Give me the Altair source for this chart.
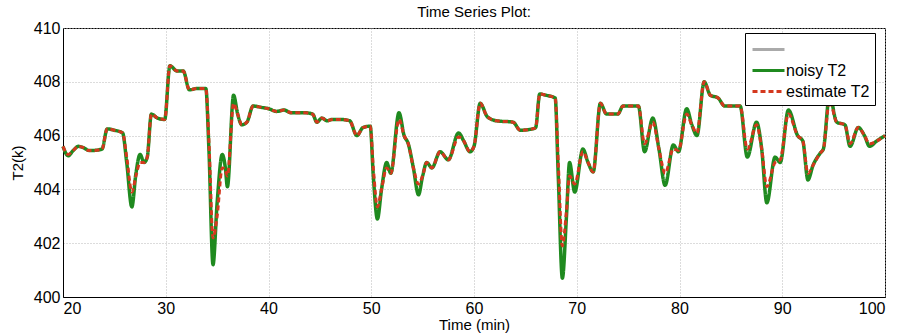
import altair as alt
import pandas as pd

# time (min)
t = [20.0, 20.5, 21.0, 21.5, 22.0, 22.5, 23.0, 23.8, 24.3, 25.0, 25.8, 26.2, 26.7, 27.1, 27.5, 27.9,
     28.2, 28.6, 29.2, 29.9, 30.4, 31.1, 31.7, 32.3, 33.0, 33.9, 34.2, 34.6, 35.0, 35.5, 35.8, 36.0,
     36.6, 37.0, 37.4, 37.9, 38.5, 39.3, 40.0, 40.8, 41.5, 42.2, 43.5, 44.3, 44.7, 45.2, 45.7, 46.2,
     47.0, 47.9, 48.6, 49.2, 49.9, 50.2, 50.6, 51.0, 51.5, 51.9, 52.7, 53.2, 53.6, 54.1, 54.6, 55.0,
     55.4, 55.9, 56.7, 57.5, 58.5, 59.0, 59.6, 60.0, 60.6, 61.3, 62.2, 63.8, 64.5, 65.7, 66.0, 66.4,
     67.0, 67.9, 68.2, 68.6, 69.0, 69.3, 69.8, 70.6, 71.1, 71.6, 72.3, 72.9, 74.0, 74.5, 76.0, 76.6,
     77.4, 78.0, 78.6, 79.4, 79.9, 80.7, 81.2, 81.7, 82.4, 83.0, 83.75, 84.4, 85.9, 86.6, 87.5, 88.0,
     88.5, 89.3, 89.8, 90.6, 91.5, 92.0, 92.5, 93.0, 93.7, 94.0, 94.6, 95.3, 96.1, 96.6, 97.4, 98.0,
     98.5, 99.2, 100.0]

noisy_t2 = [405.6, 405.25, 405.45, 405.6, 405.55, 405.45, 405.45, 405.5, 406.25, 406.2, 406.1, 405.0, 403.35, 404.6, 405.3, 405.0,
            405.2, 406.8, 406.65, 406.6, 408.6, 408.4, 408.4, 407.7, 407.75, 407.75, 405.5, 401.2, 403.5, 405.3, 404.8, 404.1,
            407.5, 406.8, 406.4, 406.5, 407.1, 407.05, 407.0, 406.9, 406.95, 406.85, 406.85, 406.8, 406.5, 406.65, 406.55, 406.6,
            406.6, 406.55, 406.0, 406.3, 406.35, 404.5, 402.9, 404.0, 405.0, 404.6, 406.85, 406.0, 405.7, 404.8, 403.8, 404.5,
            405.0, 404.8, 405.4, 405.1, 406.1, 405.8, 405.4, 405.6, 407.2, 406.7, 406.55, 406.5, 406.2, 406.25, 406.3, 407.55,
            407.5, 407.4, 404.5, 400.7, 403.0, 405.0, 403.9, 405.5, 405.0, 404.65, 407.2, 406.8, 406.8, 407.1, 407.1, 405.4,
            406.65, 405.5, 404.15, 405.65, 405.4, 407.0, 406.4, 406.0, 408.0, 407.5, 407.4, 407.1, 407.1, 405.2, 406.5, 405.5,
            403.5, 405.2, 405.0, 406.95, 406.0, 405.8, 404.35, 404.9, 405.35, 405.5, 407.5, 406.5, 406.4, 405.6, 406.3, 406.0,
            405.6, 405.8, 406.0]

estimate_t2 = [405.6, 405.3, 405.45, 405.6, 405.55, 405.45, 405.45, 405.5, 406.25, 406.2, 406.1, 405.2, 403.9, 404.5, 405.0, 405.0,
               405.2, 406.8, 406.65, 406.6, 408.6, 408.4, 408.4, 407.7, 407.75, 407.75, 405.8, 402.2, 403.0, 404.8, 404.7, 404.5,
               407.2, 406.8, 406.4, 406.5, 407.1, 407.05, 407.0, 406.9, 406.95, 406.85, 406.85, 406.8, 406.5, 406.65, 406.55, 406.6,
               406.6, 406.55, 406.0, 406.3, 406.35, 404.8, 403.35, 404.0, 404.8, 404.6, 406.6, 406.0, 405.7, 404.8, 404.2, 404.5,
               405.0, 404.8, 405.4, 405.1, 405.95, 405.8, 405.4, 405.6, 407.2, 406.7, 406.55, 406.5, 406.2, 406.25, 406.3, 407.55,
               407.5, 407.4, 405.0, 401.9, 403.2, 404.5, 404.2, 405.4, 405.0, 404.65, 407.2, 406.8, 406.8, 407.1, 407.1, 405.7,
               406.5, 405.5, 404.6, 405.5, 405.45, 406.8, 406.4, 406.1, 408.0, 407.5, 407.4, 407.1, 407.1, 405.5, 406.4, 405.5,
               404.1, 405.0, 405.1, 406.8, 406.0, 405.8, 404.6, 404.9, 405.35, 405.5, 407.3, 406.5, 406.4, 405.7, 406.3, 406.0,
               405.7, 405.8, 406.0]

series_names = ["blank", "noisy T2", "estimate T2"]
series_colors = ["#aaaaaa", "#1f8a1f", "#d4381e"]
series_dash = [[1, 0], [1, 0], [5, 3]]

x_ticks = [20, 30, 40, 50, 60, 70, 80, 90, 100]
y_ticks = [400, 402, 404, 406, 408, 410]

df = pd.concat([
    pd.DataFrame({"t": t, "v": noisy_t2, "series": "noisy T2"}),
    pd.DataFrame({"t": t, "v": estimate_t2, "series": "estimate T2"}),
])

FONT = "Liberation Sans"

x_enc = alt.X("t:Q", scale=alt.Scale(domain=[20, 100], nice=False, zero=False),
              axis=alt.Axis(title="Time (min)", values=x_ticks, grid=True))
y_enc = alt.Y("v:Q", scale=alt.Scale(domain=[400, 410], nice=False, zero=False),
              axis=alt.Axis(title="T2(k)", values=y_ticks, grid=True))


def make_legend():
    return alt.Legend(title=None, orient="none", legendX=682, legendY=5,
                      labelExpr="datum.label == 'blank' ? '' : datum.label",
                      symbolType="M-1.6,0L1.6,0", symbolSize=400, symbolStrokeWidth=3,
                      symbolOffset=7,
                      labelFontSize=16, labelFont=FONT, labelColor="black",
                      strokeColor="black", fillColor="white", padding=5,
                      rowPadding=1, labelOffset=6, labelLimit=200)


color_enc = alt.Color("series:N",
                      scale=alt.Scale(domain=series_names, range=series_colors),
                      legend=make_legend())
dash_enc = alt.StrokeDash("series:N",
                          scale=alt.Scale(domain=series_names, range=series_dash),
                          legend=make_legend())

base = alt.Chart(df)
green = base.transform_filter(alt.datum.series == "noisy T2").mark_line(
    strokeWidth=3.5, interpolate="monotone").encode(
    x=x_enc, y=y_enc, color=color_enc, strokeDash=dash_enc)
red = base.transform_filter(alt.datum.series == "estimate T2").mark_line(
    strokeWidth=3, interpolate="monotone").encode(
    x=x_enc, y=y_enc, color=color_enc, strokeDash=dash_enc)

chart = alt.layer(green, red).properties(
    width=822, height=269,
    padding={"left": 63, "top": 28, "right": 13, "bottom": 38},
    autosize=alt.AutoSizeParams(type="none"),
    title=alt.TitleParams("Time Series Plot:", fontSize=15, fontWeight="normal", font=FONT,
                          color="black", offset=0, anchor="middle"),
).configure_view(stroke="black", strokeWidth=1).configure_axis(
    labelFont=FONT, labelFontSize=16, labelColor="black",
    titleFont=FONT, titleFontSize=15, titleFontWeight="normal", titleColor="black",
    domainColor="black", tickColor="black", tickSize=0, labelPadding=3,
    gridColor="#b8b8b8", gridDash=[1, 2], gridWidth=1,
).configure_axisX(titlePadding=1, labelPadding=3).configure_axisY(titlePadding=8)

chart.save("out.html", embed_options={"renderer": "svg", "actions": False})
